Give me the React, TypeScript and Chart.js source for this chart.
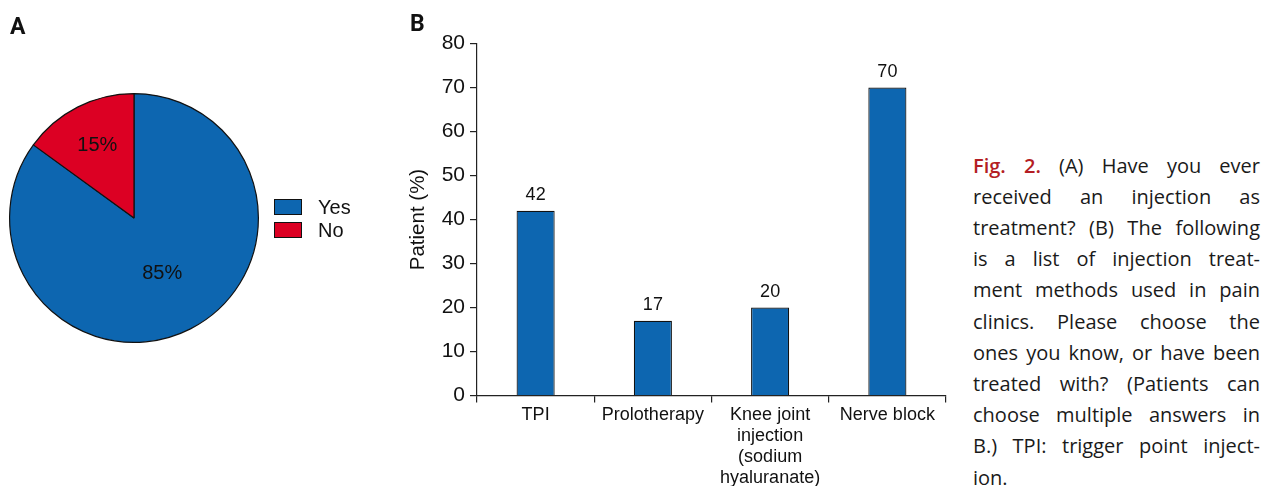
import React, { useEffect, useRef } from "react";
import { Chart, registerables } from "chart.js";

Chart.register(...registerables);

// ---------- data ----------
const pieLabels = ["Yes", "No"];
const pieValues = [85, 15];
const pieColors = ["#0d66b0", "#dc0023"];

const barCategories: (string | string[])[] = [
  "TPI",
  "Prolotherapy",
  ["Knee joint", "injection", "(sodium", "hyaluranate)"],
  "Nerve block",
];
const barValues = [42, 17, 20, 70];
const yTickValues = [0, 10, 20, 30, 40, 50, 60, 70, 80];
const yTitle = "Patient (%)";

const captionLines = [
  "(A) Have you ever",
  "received an injection as",
  "treatment? (B) The following",
  "is a list of injection treat-",
  "ment methods used in pain",
  "clinics. Please choose the",
  "ones you know, or have been",
  "treated with? (Patients can",
  "choose multiple answers in",
  "B.) TPI: trigger point inject-",
  "ion.",
];
const captionLead = "Fig. 2.";

const FONT = "'Liberation Sans', Arial, sans-serif";
const INK = "#111111";

// ---------- pie plugin: percentage labels + legend ----------
const pieDecor = {
  id: "pieDecor",
  afterDatasetsDraw(chart: any) {
    const ctx = chart.ctx;
    const meta = chart.getDatasetMeta(0);
    const total = pieValues.reduce((a, b) => a + b, 0);
    ctx.save();
    ctx.fillStyle = INK;
    ctx.font = `20px ${FONT}`;
    ctx.textAlign = "center";
    ctx.textBaseline = "middle";
    meta.data.forEach((arc: any, i: number) => {
      const p = arc.getProps(["x", "y", "startAngle", "endAngle", "outerRadius"], true);
      const mid = (p.startAngle + p.endAngle) / 2;
      const f = i === 0 ? 0.5 : 0.65;
      const pct = Math.round((pieValues[i] / total) * 100);
      ctx.fillText(`${pct}%`, p.x + Math.cos(mid) * p.outerRadius * f, p.y + Math.sin(mid) * p.outerRadius * f);
    });
    // legend
    const ca = chart.chartArea;
    const cy = (ca.top + ca.bottom) / 2;
    const boxW = 28, boxH = 16, step = 23;
    const bx = ca.right + 15;
    const top0 = cy + 0.5 - (step * (pieLabels.length - 1) + boxH) / 2;
    ctx.font = `20px ${FONT}`;
    ctx.textAlign = "left";
    pieLabels.forEach((lab, i) => {
      const by = top0 + i * step;
      ctx.fillStyle = pieColors[i];
      ctx.fillRect(bx, by, boxW, boxH);
      ctx.strokeStyle = INK;
      ctx.lineWidth = 1;
      ctx.strokeRect(bx + 0.5, by + 0.5, boxW - 1, boxH - 1);
      ctx.fillStyle = INK;
      ctx.fillText(lab, bx + 44, by + boxH / 2 + 1);
    });
    ctx.restore();
  },
};

// ---------- bar plugin: value labels ----------
const barValueLabels = {
  id: "barValueLabels",
  afterDatasetsDraw(chart: any) {
    const ctx = chart.ctx;
    const meta = chart.getDatasetMeta(0);
    ctx.save();
    ctx.fillStyle = INK;
    ctx.font = `18px ${FONT}`;
    ctx.textAlign = "center";
    ctx.textBaseline = "alphabetic";
    meta.data.forEach((bar: any, i: number) => {
      ctx.fillText(String(barValues[i]), bar.x, bar.y - 11);
    });
    ctx.restore();
  },
};

function PieChart() {
  const ref = useRef<HTMLCanvasElement>(null);
  useEffect(() => {
    const chart = new Chart(ref.current!, {
      type: "pie",
      data: {
        labels: pieLabels,
        datasets: [
          {
            data: pieValues,
            backgroundColor: pieColors,
            borderColor: INK,
            borderWidth: 1.2,
            hoverOffset: 0,
            offset: 0,
          },
        ],
      },
      options: {
        animation: false,
        responsive: false,
        maintainAspectRatio: false,
        events: [],
        layout: { padding: { left: 9, top: 93, right: 141, bottom: 143 } },
        plugins: { legend: { display: false }, tooltip: { enabled: false } },
      },
      plugins: [pieDecor],
    } as any);
    return () => chart.destroy();
  }, []);
  return <canvas ref={ref} width={400} height={486} style={{ width: 400, height: 486, display: "block" }} />;
}

function BarChart() {
  const ref = useRef<HTMLCanvasElement>(null);
  useEffect(() => {
    const chart = new Chart(ref.current!, {
      type: "bar",
      data: {
        labels: barCategories,
        datasets: [
          {
            data: barValues,
            backgroundColor: "#0d66b0",
            borderColor: INK,
            borderWidth: 1.2,
            borderSkipped: "bottom",
            categoryPercentage: 1,
            barPercentage: 0.325,
          },
        ],
      },
      options: {
        animation: false,
        responsive: false,
        maintainAspectRatio: false,
        events: [],
        layout: { padding: { top: 43.5, right: 14, left: 0, bottom: 0 } },
        plugins: { legend: { display: false }, tooltip: { enabled: false } },
        scales: {
          x: {
            offset: true,
            grid: {
              display: true,
              offset: true,
              drawOnChartArea: false,
              drawTicks: true,
              tickLength: 7,
              color: "#222",
              lineWidth: 1.2,
            },
            border: { display: true, color: "#222", width: 1.2 },
            ticks: {
              color: INK,
              font: { family: FONT, size: 18, lineHeight: 21 / 18 },
              padding: 2,
              maxRotation: 0,
              autoSkip: false,
            },
            afterFit: (s: any) => {
              s.height = 90.5;
            },
          },
          y: {
            min: 0,
            max: 80,
            afterBuildTicks: (s: any) => {
              s.ticks = yTickValues.map((v) => ({ value: v }));
            },
            grid: {
              display: true,
              drawOnChartArea: false,
              drawTicks: true,
              tickLength: 7,
              color: "#222",
              lineWidth: 1.2,
            },
            border: { display: true, color: "#222", width: 1.2 },
            ticks: {
              color: INK,
              font: { family: FONT, size: 21 },
              padding: 5,
            },
            title: {
              display: true,
              text: yTitle,
              color: INK,
              font: { family: FONT, size: 20.5 },
              padding: { top: 6, bottom: 0 },
            },
            afterFit: (s: any) => {
              s.width = 77;
            },
          },
        },
      },
      plugins: [barValueLabels],
    } as any);
    return () => chart.destroy();
  }, []);
  return <canvas ref={ref} width={560} height={486} style={{ width: 560, height: 486, display: "block" }} />;
}

export default function App() {
  const panelLabel: React.CSSProperties = {
    position: "absolute",
    fontFamily: "Roboto, 'Liberation Sans', sans-serif",
    fontWeight: 700,
    fontSize: 23,
    lineHeight: "23px",
    color: "#111",
  };
  return (
    <div
      style={{
        position: "absolute",
        left: 0,
        top: 0,
        width: 1262,
        height: 486,
        overflow: "hidden",
        background: "#fff",
      }}
    >
      <div style={{ position: "absolute", left: 0, top: 0 }}>
        <PieChart />
      </div>
      <div style={{ position: "absolute", left: 400, top: 0 }}>
        <BarChart />
      </div>
      <div style={{ ...panelLabel, left: 10, top: 15 }}>A</div>
      <div style={{ ...panelLabel, left: 410, top: 12 }}>B</div>
      <div
        style={{
          position: "absolute",
          left: 973,
          top: 149.5,
          width: 287,
          fontFamily: "'Open Sans', sans-serif",
          fontSize: 20,
          lineHeight: "31.2px",
          color: "#1a1a1a",
        }}
      >
        {captionLines.map((line, i) => (
          <div
            key={i}
            style={{
              whiteSpace: "nowrap",
              textAlign: i === captionLines.length - 1 ? "left" : "justify",
              textAlignLast: i === captionLines.length - 1 ? "left" : "justify",
            }}
          >
            {i === 0 ? (
              <>
                <span style={{ color: "#b41e24", fontWeight: 600 }}>{captionLead}</span> {line}
              </>
            ) : (
              line
            )}
          </div>
        ))}
      </div>
    </div>
  );
}
